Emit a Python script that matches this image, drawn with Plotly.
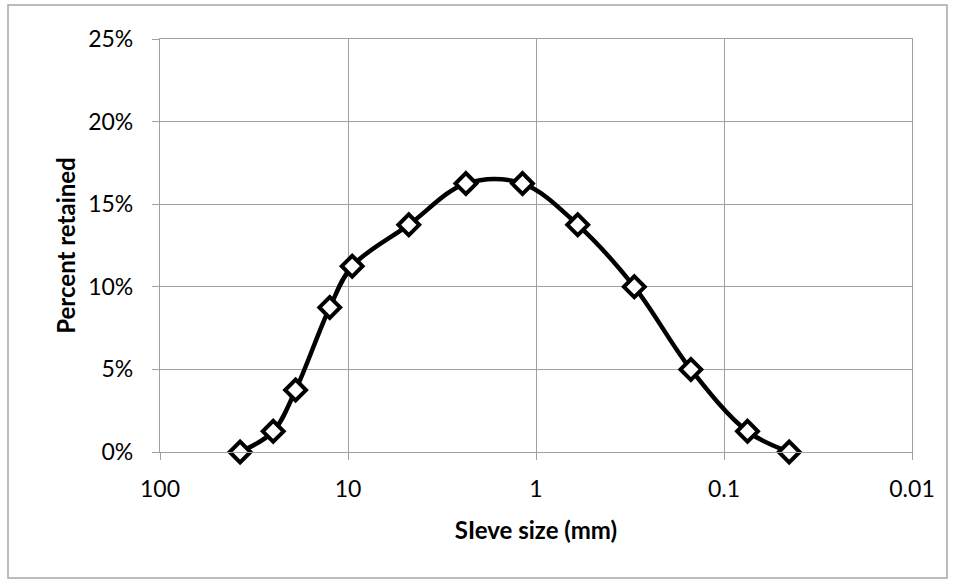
import plotly.graph_objects as go

sieve_mm = [37.5, 25, 19, 12.5, 9.5, 4.75, 2.36, 1.18, 0.6, 0.3, 0.15, 0.075, 0.045]
pct_retained = [0.0, 0.0125, 0.0375, 0.0875, 0.1125, 0.1375, 0.1625, 0.1625, 0.1375, 0.10, 0.05, 0.0125, 0.0]
x_tick_vals = [100, 10, 1, 0.1, 0.01]
x_tick_text = ["100", "10", "1", "0.1", "0.01"]

W, H = 957, 581
L, R, T, B = 160, 45, 39, 129
pw, ph = W - L - R, H - T - B

fig = go.Figure()
fig.add_trace(go.Scatter(
    x=sieve_mm, y=pct_retained, mode="lines+markers",
    line=dict(color="black", width=4.5, shape="spline", smoothing=1),
    marker=dict(symbol="diamond", size=16, color="white",
                line=dict(color="black", width=4)),
    showlegend=False, cliponaxis=False,
))

grid = "#a0a0a0"
font = "Lato, Arial, sans-serif"
fig.update_layout(
    width=W, height=H,
    margin=dict(l=L, r=R, t=T, b=B),
    paper_bgcolor="white", plot_bgcolor="white",
    font=dict(family=font, color="black", size=23),
    xaxis=dict(
        type="log", range=[2, -2],
        tickvals=x_tick_vals, ticktext=x_tick_text,
        showgrid=True, gridcolor=grid, gridwidth=1.3,
        showline=True, linecolor=grid, linewidth=1.3, mirror=True,
        ticks="outside", ticklen=7, tickcolor=grid, tickwidth=1.3,
        ticklabelstandoff=9,
        tickfont=dict(size=23),
        title=dict(text="<b>SIeve size (mm)</b>", font=dict(size=24), standoff=21),
        zeroline=False,
    ),
    yaxis=dict(
        range=[0, 0.25], dtick=0.05, tickformat=".0%",
        showgrid=True, gridcolor=grid, gridwidth=1.3,
        showline=True, linecolor=grid, linewidth=1.3, mirror=True,
        ticks="outside", ticklen=7, tickcolor=grid, tickwidth=1.3,
        ticklabelstandoff=14,
        tickfont=dict(size=23),
        title=dict(text="<b>Percent retained</b>", font=dict(size=24), standoff=5),
        zeroline=False,
    ),
)

# outer chart-area border
x0 = (8 - L) / pw
x1 = (947 - L) / pw
y0 = ((H - B) - 578) / ph
y1 = ((H - B) - 5) / ph
fig.add_shape(type="rect", xref="paper", yref="paper", x0=x0, x1=x1, y0=y0, y1=y1,
              line=dict(color="#a6a6a6", width=1.5), layer="below")

fig.write_html("out.html")
